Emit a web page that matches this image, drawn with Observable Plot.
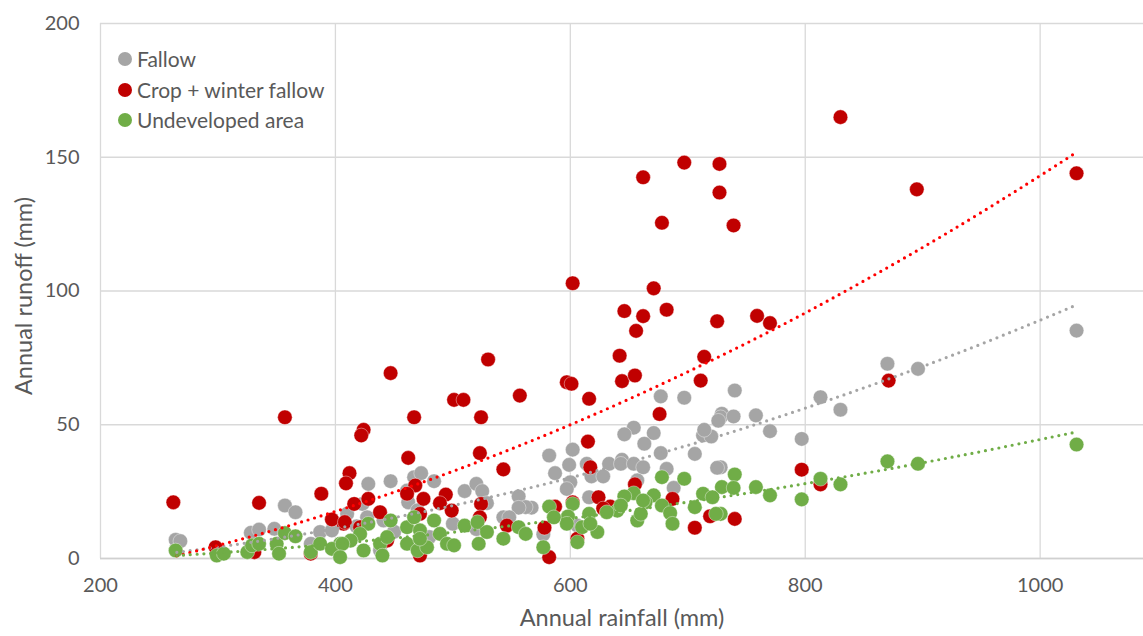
<!DOCTYPE html>
<html>
<head>
<meta charset="utf-8">
<script src="https://cdn.jsdelivr.net/npm/d3@7"></script>
<script src="https://cdn.jsdelivr.net/npm/@observablehq/plot@0.6"></script>
<style>
  html, body { margin: 0; padding: 0; background: #fff; }
  #wrap { position: relative; width: 1143px; height: 636px; font-family: Lato, "Open Sans", sans-serif; }
  #legend { position: absolute; left: 118px; top: 44px; font-size: 21px; color: #595959; line-height: 30.5px; }
  #legend .item { display: flex; align-items: center; }
  #legend .sw { width: 14px; height: 14px; border-radius: 50%; margin-right: 5px; }
</style>
</head>
<body>
<div id="wrap"></div>
<script>
// ---- data ----
const seriesNames = ["Fallow", "Crop + winter fallow", "Undeveloped area"];
const seriesColors = ["#A5A5A5", "#C00000", "#70AD47"];
const trendColors = ["#A5A5A5", "#FF0000", "#70AD47"];

const fallowX = [1031,870,896,813,830,740,729,728,739,758,770,797,728,677,697,726,713,720,714,654,671,646,663,677,706,602,582,599,587,614,633,644,643,654,662,618,628,682,725,600,597,657,688,567,616,577,606,428,447,467,473,484,510,520,525,529,556,562,556,543,548,462,461,423,410,427,441,438,357,366,264,268,328,335,348,387,397,379,450,480,500,520,470,418];
const fallowY = [85.2,72.8,70.9,60.3,55.6,62.8,54.1,52.8,53.1,53.5,47.6,44.7,34.1,60.6,60.1,51.5,46,45.6,48.1,48.9,46.9,46.4,42.9,39.4,39.1,40.7,38.5,35,31.9,35.4,35.4,36.9,35.4,35.4,34.1,30.7,30.7,33.5,33.9,28.5,26,29.2,26.4,19,22.9,9,12.3,27.9,28.9,30.4,31.9,28.9,25.2,27.9,25.2,20.7,23.2,19.2,19,15.4,15.4,21,25.4,20.4,16.7,15.4,14.2,3,19.8,17.3,7,6.5,9.6,10.8,11.1,9.9,10.5,5.5,10,8,13,11,18,12];

const cropX = [830,1031,895,871,697,727,662,727,678,739,671,646,662,682,656,725,759,770,642,714,602,530,447,597,601,644,655,711,616,676,615,617,655,624,687,602,634,628,719,706,578,606,582,587,797,813,740,501,509,557,467,524,424,422,462,523,543,412,409,468,428,461,475,494,489,499,416,438,524,523,472,407,421,546,472,444,262,335,357,388,397,408,379,298,331];
const cropY = [165,144,138,66.5,148,147.5,142.5,136.8,125.5,124.5,101,92.5,90.6,93,85.1,88.7,90.7,88,75.8,75.4,102.9,74.4,69.3,65.9,65.3,66.3,68.4,66.5,59.7,54,43.7,34.1,27.7,22.9,22.3,21,19.4,18.7,15.8,11.5,11.5,7.4,0.5,19.4,33.2,27.7,14.8,59.3,59.3,60.9,52.8,52.8,48.1,46,37.6,39.4,33.3,31.9,28.1,27.3,22.3,24.2,22.3,23.9,20.7,17.9,20.4,17.3,20.4,15.4,16.7,13,11.7,12.3,1.1,6.7,21,20.8,52.8,24.2,14.6,13.6,1.8,4.2,2.4];

const undevX = [1031,870,896,813,830,740,729,739,758,770,797,728,678,697,713,721,706,724,654,671,646,664,678,685,687,657,640,631,616,623,602,598,597,606,582,586,577,610,617,643,660,662,510,521,522,529,543,556,562,447,461,467,472,484,489,495,461,470,428,421,413,404,424,438,440,444,478,472,501,264,299,305,325,329,335,350,352,357,366,379,387,397,406,404];
const undevY = [42.6,36.3,35.4,29.8,27.7,31.4,26.7,26.4,26.7,23.6,22.1,16.7,30.4,29.8,24.2,22.9,19.2,16.7,24.4,23.6,23.2,21,19.8,17,13,14.2,17.9,17.3,16.7,9.9,20.4,15.7,13,6.1,19.4,15.4,4.2,11.7,13,19.8,16.7,21.7,12.3,13.6,5.5,9.9,7.4,11.7,9.2,14.2,11.7,15.4,10.5,14.2,9.2,5.5,5.5,3,13,9.2,6.7,5.5,3,5.5,1.1,8,4.2,7.4,4.9,3,1.1,1.8,2.4,4.9,5.5,5.5,1.8,9.5,8.3,2.4,5.5,3.6,5.5,0.5];

// dotted trendlines, values
const trendX = [265,300,350,400,450,500,550,600,650,700,750,800,850,900,950,1000,1030];
const fallowTrend = [2.3,4.3,7.5,11.2,15.3,19.8,24.8,30.2,36.1,42.3,49.0,56.2,63.8,71.8,80.2,89.1,94.6];
const cropTrend = [1.0,4.9,10.9,17.6,24.8,32.6,41.0,50.0,59.6,69.8,80.5,91.8,103.8,116.3,129.4,143.1,151.6];
const undevTrend = [1.1,2.1,3.7,5.5,7.6,9.8,12.3,15.0,17.9,21.1,24.4,28.0,31.8,35.8,40.0,44.5,47.2];

const xTicks = [200,400,600,800,1000];
const yTicks = [0,50,100,150,200];
const xLabel = "Annual rainfall (mm)";
const yLabel = "Annual runoff (mm)";

// ---- build tables ----
const pts = (xs, ys) => xs.map((x, i) => ({x, y: ys[i]}));
const seriesPts = [pts(fallowX, fallowY), pts(cropX, cropY), pts(undevX, undevY)];
const trends = [fallowTrend, cropTrend, undevTrend].map(t => pts(trendX, t));

const marks = [
  Plot.gridX(xTicks, {stroke: "#D9D9D9", strokeOpacity: 1, strokeWidth: 1.3}),
  Plot.gridY(yTicks, {stroke: "#D9D9D9", strokeOpacity: 1, strokeWidth: 1.3}),
  Plot.ruleY([0], {stroke: "#D0D0D0", strokeWidth: 1.5}),
  Plot.axisX(xTicks, {tickSize: 0, tickPadding: 19, fontSize: 20, color: "#595959", label: null, tickFormat: d => String(d)}),
  Plot.axisY(yTicks, {tickSize: 0, tickPadding: 21, fontSize: 20, color: "#595959", label: null, tickFormat: d => String(d)}),
];
seriesPts.forEach((d, i) => {
  marks.push(Plot.dot(d, {x: "x", y: "y", r: 7.3, fill: seriesColors[i], stroke: "white", strokeWidth: 0.4}));
});
trends.forEach((d, i) => {
  marks.push(Plot.line(d, {x: "x", y: "y", curve: "natural", stroke: trendColors[i], strokeWidth: 3.2,
    strokeDasharray: "0 6.8", strokeLinecap: "round"}));
});
marks.push(Plot.text([xLabel], {frameAnchor: "bottom", dy: 67, fontSize: 23.5, fill: "#595959", textAnchor: "middle"}));
marks.push(Plot.text([yLabel], {frameAnchor: "left", dx: -76, dy: 5, rotate: -90, fontSize: 23.5, fill: "#595959", textAnchor: "middle"}));

const chart = Plot.plot({
  width: 1143,
  height: 636,
  marginTop: 23,
  marginLeft: 100,
  marginRight: 0,
  marginBottom: 78,
  style: {fontFamily: "Lato, 'Open Sans', sans-serif", background: "white"},
  x: {domain: [200, 1088]},
  y: {domain: [0, 200]},
  marks
});
const wrap = document.getElementById("wrap");
wrap.appendChild(chart);

const legend = document.createElement("div");
legend.id = "legend";
seriesNames.forEach((n, i) => {
  const it = document.createElement("div");
  it.className = "item";
  const sw = document.createElement("span");
  sw.className = "sw";
  sw.style.background = seriesColors[i];
  const t = document.createElement("span");
  t.textContent = n;
  it.appendChild(sw); it.appendChild(t);
  legend.appendChild(it);
});
wrap.appendChild(legend);
</script>
</body>
</html>
